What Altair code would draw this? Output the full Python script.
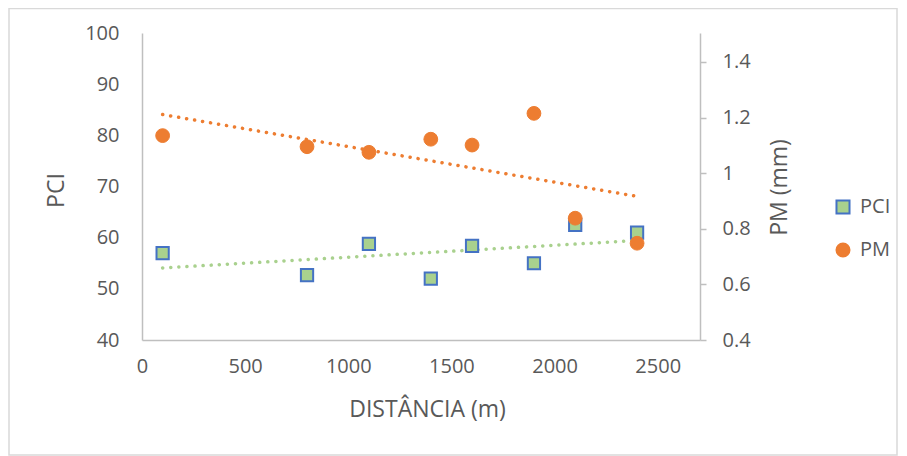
import altair as alt
import pandas as pd

distancia = [100, 800, 1100, 1400, 1600, 1900, 2100, 2400]
pci = [57, 52.7, 58.8, 52, 58.4, 55, 62.5, 61]
pm = [1.135, 1.095, 1.075, 1.122, 1.101, 1.215, 0.838, 0.748]
series = ["PCI", "PM"]
x_ticks = [0, 500, 1000, 1500, 2000, 2500]
pci_ticks = [40, 50, 60, 70, 80, 90, 100]
pm_ticks = [0.4, 0.6, 0.8, 1.0, 1.2, 1.4]

df_pci = pd.DataFrame({"d": distancia, "v": pci, "s": "PCI"})
df_pm = pd.DataFrame({"d": distancia, "v": pm, "s": "PM"})

FONT = "Open Sans"
LBL = "#595959"
AX = "#bfbfbf"

x_enc = alt.X("d:Q", scale=alt.Scale(domain=[0, 2705], nice=False),
              axis=alt.Axis(values=x_ticks, format="d", title="DISTÂNCIA (m)", grid=False, ticks=False,
                            domainColor=AX, domainWidth=1.5, labelPadding=16,
                            titleX=285, titleY=69, titleBaseline="middle", titleAlign="center",
                            labelFlush=False))

color = alt.Color("s:N", scale=alt.Scale(domain=series, range=["#a9d18e", "#ed7d31"]),
                  legend=alt.Legend(title=None, orient="none", legendX=691, legendY=164,
                                    rowPadding=21, labelFontSize=20, labelColor=LBL,
                                    labelFont=FONT, symbolSize=170, labelOffset=7,
                                    symbolStrokeWidth=2))
shape = alt.Shape("s:N", scale=alt.Scale(domain=series, range=["square", "circle"]), legend=alt.Legend(title=None))
stroke = alt.Stroke("s:N", scale=alt.Scale(domain=series, range=["#4472c4", "#ed7d31"]), legend=alt.Legend(title=None))

y_pci = alt.Y("v:Q", scale=alt.Scale(domain=[40, 100], nice=False, zero=False),
              axis=alt.Axis(values=pci_ticks, title="PCI", grid=False, ticks=False, orient="left",
                            domainColor=AX, domainWidth=1.5, labelPadding=23,
                            titleX=-86, titleY=157, titleAngle=270, titleBaseline="middle",
                            titleAlign="center"))
y_pm = alt.Y("v:Q", scale=alt.Scale(domain=[0.4, 1.504], nice=False, zero=False),
             axis=alt.Axis(values=pm_ticks, title="PM (mm)", grid=False, orient="right",
                           ticks=True, tickSize=6, tickColor=AX, tickWidth=1.5,
                           domainColor=AX, domainWidth=1.5, labelPadding=16,
                           format="~g", titleX=79, titleY=154, titleAngle=270,
                           titleBaseline="middle", titleAlign="center"))

border = alt.Chart(pd.DataFrame({"a": [0]})).mark_rect(
    fill=None, stroke="#d9d9d9", strokeWidth=1.5).encode(
    x=alt.value(-133), x2=alt.value(755), y=alt.value(-24.5), y2=alt.value(422))

pci_trend = alt.Chart(df_pci).transform_regression("d", "v").mark_line(
    color="#a9d18e", strokeWidth=3.5, strokeDash=[0.1, 8], strokeCap="round").encode(x=x_enc, y=y_pci)
pci_pts = alt.Chart(df_pci).mark_point(filled=True, size=150, strokeWidth=2, opacity=1).encode(
    x=x_enc, y=y_pci, color=color, shape=shape, stroke=stroke)

pm_trend = alt.Chart(df_pm).transform_regression("d", "v").mark_line(
    color="#ed7d31", strokeWidth=3.5, strokeDash=[0.1, 8], strokeCap="round").encode(x=x_enc, y=y_pm)
pm_pts = alt.Chart(df_pm).mark_point(filled=True, size=190, strokeWidth=1, opacity=1).encode(
    x=x_enc, y=y_pm, color=color, shape=shape, stroke=stroke)

left = alt.layer(border, pci_trend, pci_pts)
right = alt.layer(pm_trend, pm_pts)

chart = alt.layer(left, right).resolve_scale(y="independent").properties(
    width=558, height=307,
    padding={"left": 134, "top": 25, "right": 199, "bottom": 124},
    autosize=alt.AutoSizeParams(type="none"),
).configure_view(stroke=None).configure_axis(
    labelFont=FONT, titleFont=FONT, labelFontSize=20, titleFontSize=23,
    labelColor=LBL, titleColor=LBL, titleFontWeight="normal"
).configure_legend(labelFont=FONT)

chart.save("out.html", embed_options={"renderer": "svg", "actions": False})
